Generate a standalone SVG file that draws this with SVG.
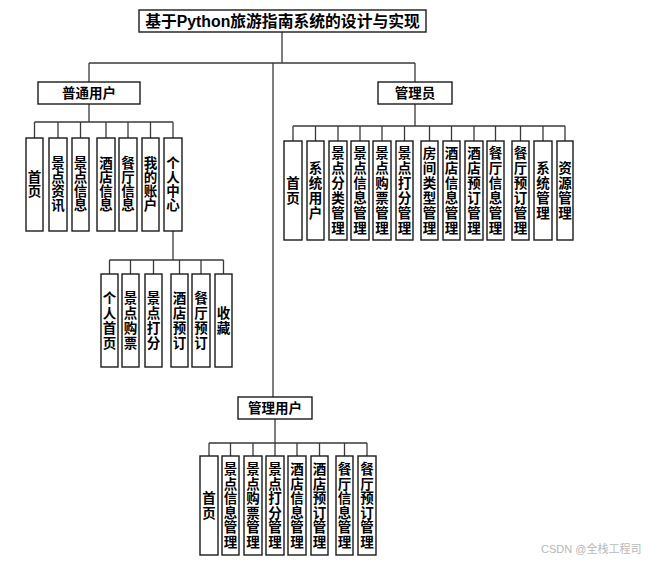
<svg xmlns="http://www.w3.org/2000/svg" width="658" height="564" viewBox="0 0 658 564">
<style>
.bx{fill:#fff;stroke:#1a1a1a;stroke-width:1.4}
.ln{fill:none;stroke:#3a3a3a;stroke-width:1.3}
.t{font-family:"Liberation Sans","Noto Sans CJK SC",sans-serif;font-weight:bold;font-size:13.5px;fill:#000;text-anchor:middle}
.tt{font-family:"Liberation Sans","Noto Sans CJK SC",sans-serif;font-weight:bold;font-size:15.8px;fill:#000;text-anchor:middle}
.wm{font-family:"Liberation Sans","Noto Sans CJK SC",sans-serif;font-size:11px;fill:#b8b8b8}
</style>
<rect width="658" height="564" fill="#fff"/>
<g id="connectors">
<path class="ln" d="M282 32V63M89 63H415M89 63V82M415 63V82M273 63V397"/>
<path class="ln" d="M89 104V122M34.5 122H173M34.5 122V138M58 122V138M80.5 122V138M106 122V138M128 122V138M150.5 122V138M173 122V138"/>
<path class="ln" d="M173 231V260M109.5 260H223.5M109.5 260V274M130.5 260V274M153.5 260V274M179.5 260V274M201 260V274M223.5 260V274"/>
<path class="ln" d="M415 104V126M293 126H565M293 126V141M315.5 126V141M338 126V141M360 126V141M382 126V141M404.5 126V141M429.5 126V141M451.5 126V141M474 126V141M495.5 126V141M520.5 126V141M543 126V141M565 126V141"/>
<path class="ln" d="M275 419V443M209 443H367M209 443V456M230.5 443V456M253 443V456M275 443V456M297 443V456M319.5 443V456M344.5 443V456M367 443V456"/>
</g>
<g id="title"><rect class="bx" x="139" y="10" width="287" height="22"/><text class="tt" x="282.5" y="26.8">基于Python旅游指南系统的设计与实现</text></g>
<g id="user"><rect class="bx" x="38" y="82" width="102" height="22"/><text class="t" x="89" y="97.5">普通用户</text></g>
<g id="admin"><rect class="bx" x="378" y="82" width="74" height="22"/><text class="t" x="415" y="97.5">管理员</text></g>
<g id="mgruser"><rect class="bx" x="238" y="397" width="74" height="22"/><text class="t" x="275" y="412.5">管理用户</text></g>

<g id="u1"><rect class="bx" x="26" y="138" width="17" height="93"/><text class="t" x="34.5" y="182.2">首<tspan x="34.5" dy="14">页</tspan></text></g>
<g id="u2"><rect class="bx" x="49" y="138" width="18" height="93"/><text class="t" x="58" y="168.2">景<tspan x="58" dy="14">点</tspan><tspan x="58" dy="14">资</tspan><tspan x="58" dy="14">讯</tspan></text></g>
<g id="u3"><rect class="bx" x="72" y="138" width="17" height="93"/><text class="t" x="80.5" y="168.2">景<tspan x="80.5" dy="14">点</tspan><tspan x="80.5" dy="14">信</tspan><tspan x="80.5" dy="14">息</tspan></text></g>
<g id="u4"><rect class="bx" x="97" y="138" width="18" height="93"/><text class="t" x="106" y="168.2">酒<tspan x="106" dy="14">店</tspan><tspan x="106" dy="14">信</tspan><tspan x="106" dy="14">息</tspan></text></g>
<g id="u5"><rect class="bx" x="119" y="138" width="18" height="93"/><text class="t" x="128" y="168.2">餐<tspan x="128" dy="14">厅</tspan><tspan x="128" dy="14">信</tspan><tspan x="128" dy="14">息</tspan></text></g>
<g id="u6"><rect class="bx" x="142" y="138" width="17" height="93"/><text class="t" x="150.5" y="168.2">我<tspan x="150.5" dy="14">的</tspan><tspan x="150.5" dy="14">账</tspan><tspan x="150.5" dy="14">户</tspan></text></g>
<g id="u7"><rect class="bx" x="164" y="138" width="18" height="93"/><text class="t" x="173" y="168.2">个<tspan x="173" dy="14">人</tspan><tspan x="173" dy="14">中</tspan><tspan x="173" dy="14">心</tspan></text></g>

<g id="s1"><rect class="bx" x="101" y="274" width="17" height="93"/><text class="t" x="109.5" y="302.7">个<tspan x="109.5" dy="15">人</tspan><tspan x="109.5" dy="15">首</tspan><tspan x="109.5" dy="15">页</tspan></text></g>
<g id="s2"><rect class="bx" x="122" y="274" width="17" height="93"/><text class="t" x="130.5" y="302.7">景<tspan x="130.5" dy="15">点</tspan><tspan x="130.5" dy="15">购</tspan><tspan x="130.5" dy="15">票</tspan></text></g>
<g id="s3"><rect class="bx" x="145" y="274" width="17" height="93"/><text class="t" x="153.5" y="302.7">景<tspan x="153.5" dy="15">点</tspan><tspan x="153.5" dy="15">打</tspan><tspan x="153.5" dy="15">分</tspan></text></g>
<g id="s4"><rect class="bx" x="171" y="274" width="17" height="93"/><text class="t" x="179.5" y="302.7">酒<tspan x="179.5" dy="15">店</tspan><tspan x="179.5" dy="15">预</tspan><tspan x="179.5" dy="15">订</tspan></text></g>
<g id="s5"><rect class="bx" x="192" y="274" width="18" height="93"/><text class="t" x="201" y="302.7">餐<tspan x="201" dy="15">厅</tspan><tspan x="201" dy="15">预</tspan><tspan x="201" dy="15">订</tspan></text></g>
<g id="s6"><rect class="bx" x="215" y="274" width="17" height="93"/><text class="t" x="223.5" y="317.7">收<tspan x="223.5" dy="15">藏</tspan></text></g>

<g id="a1"><rect class="bx" x="284" y="141" width="18" height="99"/><text class="t" x="293" y="187.7">首<tspan x="293" dy="15">页</tspan></text></g>
<g id="a2"><rect class="bx" x="307" y="141" width="17" height="99"/><text class="t" x="315.5" y="172.7">系<tspan x="315.5" dy="15">统</tspan><tspan x="315.5" dy="15">用</tspan><tspan x="315.5" dy="15">户</tspan></text></g>
<g id="a3"><rect class="bx" x="329" y="141" width="18" height="99"/><text class="t" x="338" y="157.7">景<tspan x="338" dy="15">点</tspan><tspan x="338" dy="15">分</tspan><tspan x="338" dy="15">类</tspan><tspan x="338" dy="15">管</tspan><tspan x="338" dy="15">理</tspan></text></g>
<g id="a4"><rect class="bx" x="351" y="141" width="18" height="99"/><text class="t" x="360" y="157.7">景<tspan x="360" dy="15">点</tspan><tspan x="360" dy="15">信</tspan><tspan x="360" dy="15">息</tspan><tspan x="360" dy="15">管</tspan><tspan x="360" dy="15">理</tspan></text></g>
<g id="a5"><rect class="bx" x="373" y="141" width="18" height="99"/><text class="t" x="382" y="157.7">景<tspan x="382" dy="15">点</tspan><tspan x="382" dy="15">购</tspan><tspan x="382" dy="15">票</tspan><tspan x="382" dy="15">管</tspan><tspan x="382" dy="15">理</tspan></text></g>
<g id="a6"><rect class="bx" x="396" y="141" width="17" height="99"/><text class="t" x="404.5" y="157.7">景<tspan x="404.5" dy="15">点</tspan><tspan x="404.5" dy="15">打</tspan><tspan x="404.5" dy="15">分</tspan><tspan x="404.5" dy="15">管</tspan><tspan x="404.5" dy="15">理</tspan></text></g>
<g id="a7"><rect class="bx" x="421" y="141" width="17" height="99"/><text class="t" x="429.5" y="157.7">房<tspan x="429.5" dy="15">间</tspan><tspan x="429.5" dy="15">类</tspan><tspan x="429.5" dy="15">型</tspan><tspan x="429.5" dy="15">管</tspan><tspan x="429.5" dy="15">理</tspan></text></g>
<g id="a8"><rect class="bx" x="443" y="141" width="17" height="99"/><text class="t" x="451.5" y="157.7">酒<tspan x="451.5" dy="15">店</tspan><tspan x="451.5" dy="15">信</tspan><tspan x="451.5" dy="15">息</tspan><tspan x="451.5" dy="15">管</tspan><tspan x="451.5" dy="15">理</tspan></text></g>
<g id="a9"><rect class="bx" x="465" y="141" width="18" height="99"/><text class="t" x="474" y="157.7">酒<tspan x="474" dy="15">店</tspan><tspan x="474" dy="15">预</tspan><tspan x="474" dy="15">订</tspan><tspan x="474" dy="15">管</tspan><tspan x="474" dy="15">理</tspan></text></g>
<g id="a10"><rect class="bx" x="487" y="141" width="17" height="99"/><text class="t" x="495.5" y="157.7">餐<tspan x="495.5" dy="15">厅</tspan><tspan x="495.5" dy="15">信</tspan><tspan x="495.5" dy="15">息</tspan><tspan x="495.5" dy="15">管</tspan><tspan x="495.5" dy="15">理</tspan></text></g>
<g id="a11"><rect class="bx" x="512" y="141" width="17" height="99"/><text class="t" x="520.5" y="157.7">餐<tspan x="520.5" dy="15">厅</tspan><tspan x="520.5" dy="15">预</tspan><tspan x="520.5" dy="15">订</tspan><tspan x="520.5" dy="15">管</tspan><tspan x="520.5" dy="15">理</tspan></text></g>
<g id="a12"><rect class="bx" x="534" y="141" width="18" height="99"/><text class="t" x="543" y="172.7">系<tspan x="543" dy="15">统</tspan><tspan x="543" dy="15">管</tspan><tspan x="543" dy="15">理</tspan></text></g>
<g id="a13"><rect class="bx" x="557" y="141" width="16" height="99"/><text class="t" x="565" y="172.7">资<tspan x="565" dy="15">源</tspan><tspan x="565" dy="15">管</tspan><tspan x="565" dy="15">理</tspan></text></g>

<g id="m1"><rect class="bx" x="200" y="456" width="18" height="99"/><text class="t" x="209" y="503">首<tspan x="209" dy="14.5">页</tspan></text></g>
<g id="m2"><rect class="bx" x="222" y="456" width="17" height="99"/><text class="t" x="230.5" y="474">景<tspan x="230.5" dy="14.5">点</tspan><tspan x="230.5" dy="14.5">信</tspan><tspan x="230.5" dy="14.5">息</tspan><tspan x="230.5" dy="14.5">管</tspan><tspan x="230.5" dy="14.5">理</tspan></text></g>
<g id="m3"><rect class="bx" x="244" y="456" width="18" height="99"/><text class="t" x="253" y="474">景<tspan x="253" dy="14.5">点</tspan><tspan x="253" dy="14.5">购</tspan><tspan x="253" dy="14.5">票</tspan><tspan x="253" dy="14.5">管</tspan><tspan x="253" dy="14.5">理</tspan></text></g>
<g id="m4"><rect class="bx" x="266" y="456" width="18" height="99"/><text class="t" x="275" y="474">景<tspan x="275" dy="14.5">点</tspan><tspan x="275" dy="14.5">打</tspan><tspan x="275" dy="14.5">分</tspan><tspan x="275" dy="14.5">管</tspan><tspan x="275" dy="14.5">理</tspan></text></g>
<g id="m5"><rect class="bx" x="288" y="456" width="18" height="99"/><text class="t" x="297" y="474">酒<tspan x="297" dy="14.5">店</tspan><tspan x="297" dy="14.5">信</tspan><tspan x="297" dy="14.5">息</tspan><tspan x="297" dy="14.5">管</tspan><tspan x="297" dy="14.5">理</tspan></text></g>
<g id="m6"><rect class="bx" x="311" y="456" width="17" height="99"/><text class="t" x="319.5" y="474">酒<tspan x="319.5" dy="14.5">店</tspan><tspan x="319.5" dy="14.5">预</tspan><tspan x="319.5" dy="14.5">订</tspan><tspan x="319.5" dy="14.5">管</tspan><tspan x="319.5" dy="14.5">理</tspan></text></g>
<g id="m7"><rect class="bx" x="336" y="456" width="17" height="99"/><text class="t" x="344.5" y="474">餐<tspan x="344.5" dy="14.5">厅</tspan><tspan x="344.5" dy="14.5">信</tspan><tspan x="344.5" dy="14.5">息</tspan><tspan x="344.5" dy="14.5">管</tspan><tspan x="344.5" dy="14.5">理</tspan></text></g>
<g id="m8"><rect class="bx" x="358" y="456" width="18" height="99"/><text class="t" x="367" y="474">餐<tspan x="367" dy="14.5">厅</tspan><tspan x="367" dy="14.5">预</tspan><tspan x="367" dy="14.5">订</tspan><tspan x="367" dy="14.5">管</tspan><tspan x="367" dy="14.5">理</tspan></text></g>

<text class="wm" x="541" y="553">CSDN @全栈工程司</text>
</svg>
